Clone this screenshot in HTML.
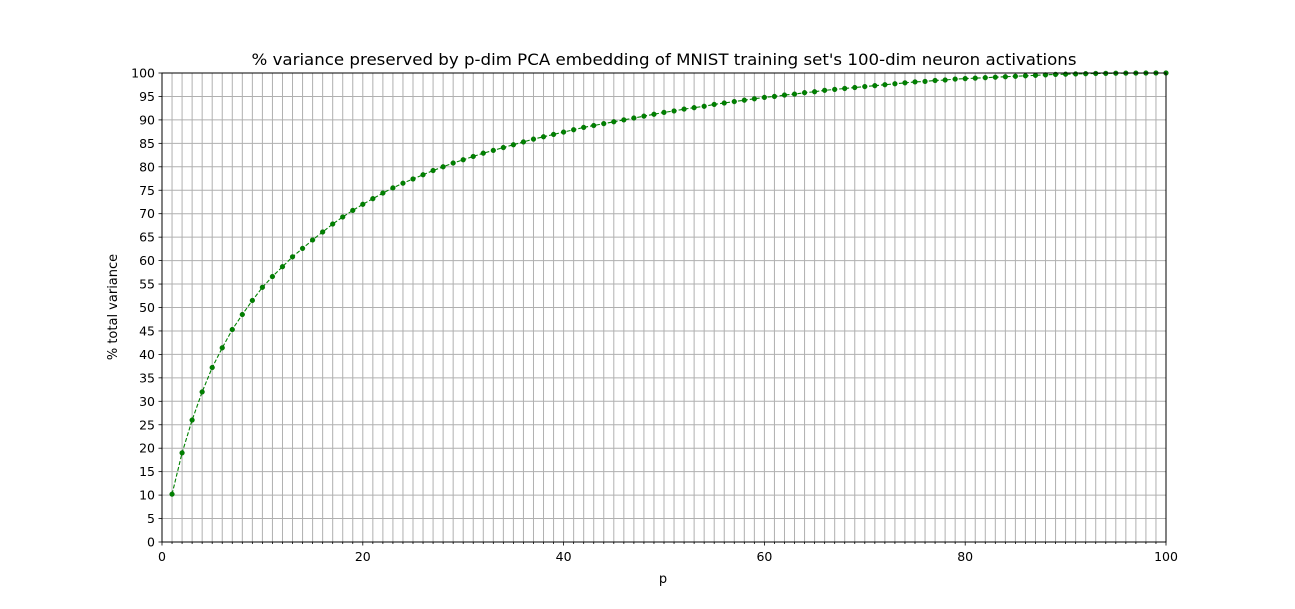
<!DOCTYPE html>
<html><head><meta charset="utf-8"><style>
body{margin:0;background:#fff;}
svg{display:block;font-family:"DejaVu Sans","Liberation Sans",sans-serif;}
</style></head><body>
<svg id="chart" width="1295" height="609" viewBox="0 0 1295 609">
<rect width="1295" height="609" fill="#fff"/>
<text x="664" y="65" font-size="16.2" text-anchor="middle" textLength="825" lengthAdjust="spacingAndGlyphs">% variance preserved by p-dim PCA embedding of MNIST training set's 100-dim neuron activations</text>
<g id="grid"></g>
<g id="series"></g>
<g id="axes"></g>
<text x="663" y="583" font-size="13" text-anchor="middle">p</text>
<text transform="translate(117,307) rotate(-90)" font-size="13" text-anchor="middle">% total variance</text>
</svg>
<script>
const pValues = [];
for (let i = 1; i <= 100; i++) pValues.push(i);
const variance = [10.2,19,26,32,37.2,41.4,45.3,48.5,51.5,54.3,56.6,58.7,60.8,62.6,64.4,66.1,67.8,69.3,70.7,72,
73.2,74.4,75.5,76.5,77.4,78.3,79.2,80,80.8,81.5,82.2,82.9,83.5,84.1,84.7,85.3,85.9,86.4,86.9,87.4,
87.9,88.4,88.8,89.2,89.6,90.0,90.4,90.8,91.2,91.6,91.9,92.3,92.6,92.9,93.3,93.6,93.9,94.2,94.5,94.8,
95.0,95.3,95.5,95.8,96.0,96.3,96.5,96.7,96.9,97.1,97.3,97.5,97.7,97.9,98.1,98.2,98.4,98.5,98.7,98.8,
98.9,99.0,99.1,99.2,99.3,99.4,99.5,99.6,99.7,99.75,99.8,99.85,99.9,99.92,99.95,99.97,99.98,99.99,100,100];
const xTicks = [0,20,40,60,80,100];
const yTicks = [0,5,10,15,20,25,30,35,40,45,50,55,60,65,70,75,80,85,90,95,100];

const L=162,R=1166,T=73,B=542;
const xs = v => L + (v/100)*(R-L);
const ys = v => B - (v/100)*(B-T);
const NS="http://www.w3.org/2000/svg";
function mk(tag, attrs, parent){const e=document.createElementNS(NS,tag);for(const k in attrs)e.setAttribute(k,attrs[k]);parent.appendChild(e);return e;}
const grid=document.getElementById('grid'), axes=document.getElementById('axes'), series=document.getElementById('series');

for(let i=0;i<=100;i++){
  const l=mk('line',{x1:xs(i),x2:xs(i),y1:T,y2:B,stroke:'#b0b0b0','stroke-width':1},grid);
  
  
  const t=mk('line',{x1:xs(i),x2:xs(i),y1:B,y2:B+(i%20===0?3.5:2),stroke:'#000','stroke-width':0.8},axes);
  
  
}
yTicks.forEach(v=>{
  const l=mk('line',{x1:L,x2:R,y1:ys(v),y2:ys(v),stroke:'#b0b0b0','stroke-width':1},grid);
  
  
  const t=mk('line',{x1:L-3.5,x2:L,y1:ys(v),y2:ys(v),stroke:'#000','stroke-width':0.8},axes);
  
  
  const tx=mk('text',{x:L-7,y:ys(v)+4.5,'font-size':12.5,'text-anchor':'end'},axes);
  tx.textContent=v;
  
  
});
xTicks.forEach(v=>{
  const tx=mk('text',{x:xs(v),y:B+19,'font-size':12.5,'text-anchor':'middle'},axes);
  tx.textContent=v;
  
  
});
const frame=mk('rect',{x:L,y:T,width:R-L,height:B-T,fill:'none',stroke:'#000','stroke-width':1},axes);



const pts=pValues.map((p,i)=>xs(p)+','+ys(variance[i])).join(' ');
const line=mk('polyline',{points:pts,fill:'none',stroke:'#008000','stroke-width':1.1,'stroke-dasharray':'4,2'},series);


pValues.forEach((p,i)=>{
  const c=mk('circle',{cx:xs(p),cy:ys(variance[i]),r:2.4,fill:'#008000',stroke:'#006400','stroke-width':0.4},series);
  
  
});
</script>
</body></html>
